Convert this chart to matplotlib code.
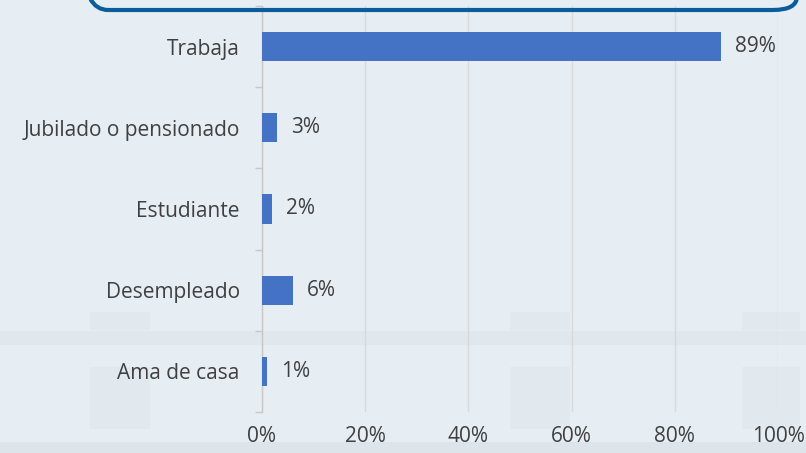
import matplotlib.pyplot as plt
from matplotlib.patches import FancyBboxPatch, Rectangle
from matplotlib.ticker import FixedLocator, PercentFormatter

categories = ['Trabaja', 'Jubilado o pensionado', 'Estudiante', 'Desempleado', 'Ama de casa']
values = [89, 3, 2, 6, 1]
xticks = [0, 20, 40, 60, 80, 100]

plt.rcParams['font.family'] = ['Open Sans', 'DejaVu Sans']

W, H = 806, 453
fig = plt.figure(figsize=(W / 100, H / 100), dpi=100)
fig.patch.set_facecolor('#e6edf3')

# faint background shapes (photo behind the chart)
bg = [
    (0, 331, 806, 14, '#e0e7ed'),
    (0, 442, 806, 11, '#dde5eb'),
    (90, 312, 60, 18, '#e1e8ee'),
    (90, 367, 60, 62, '#e1e8ee'),
    (510, 312, 60, 18, '#e1e8ee'),
    (510, 367, 60, 62, '#e1e8ee'),
    (742, 312, 58, 18, '#e1e8ee'),
    (742, 367, 58, 62, '#e1e8ee'),
]
for x, y, w, h, c in bg:
    fig.add_artist(Rectangle((x / W, 1 - (y + h) / H), w / W, h / H,
                             transform=fig.transFigure, facecolor=c,
                             edgecolor='none', zorder=0))

ax = fig.add_axes([262 / W, 1 - 412 / H, (778 - 262) / W, (412 - 6) / H])
ax.patch.set_alpha(0)

pos = list(range(len(categories)))
ax.barh(pos, values, height=0.36, color='#4472c4', zorder=3)
for p, v in zip(pos, values):
    ax.text(v + 2.7, p, f'{v}%', va='center', ha='left', fontsize=15, color='#404040')

ax.set_xlim(0, 100)
ax.set_ylim(len(categories) - 0.5, -0.5)
ax.set_xticks(xticks)
ax.xaxis.set_major_formatter(PercentFormatter(decimals=0))
ax.set_yticks(pos)
ax.set_yticklabels(categories)
ax.yaxis.set_minor_locator(FixedLocator([p - 0.5 for p in pos] + [len(pos) - 0.5]))

ax.tick_params(axis='y', which='major', length=0, pad=16, labelsize=15, labelcolor='#404040')
ax.tick_params(axis='y', which='minor', length=5, color='#c8c8c8', width=1)
ax.tick_params(axis='x', length=0, pad=10, labelsize=15, labelcolor='#404040')

ax.grid(axis='x', color='#d9d9d9', linewidth=1, zorder=0)
for s in ['top', 'right', 'bottom']:
    ax.spines[s].set_visible(False)
ax.spines['left'].set_color('#c8c8c8')
ax.spines['left'].set_linewidth(1)

# rounded frame at the top (partly cut off)
box = FancyBboxPatch((84 / W, 1 - 10 / H), (797 - 84) / W, 60 / H,
                     boxstyle='round,pad=0,rounding_size=0.03',
                     transform=fig.transFigure, facecolor='none',
                     edgecolor='#0b5c9a', linewidth=3, zorder=5)
fig.add_artist(box)

fig.savefig('out.png', dpi=100, facecolor=fig.get_facecolor())
